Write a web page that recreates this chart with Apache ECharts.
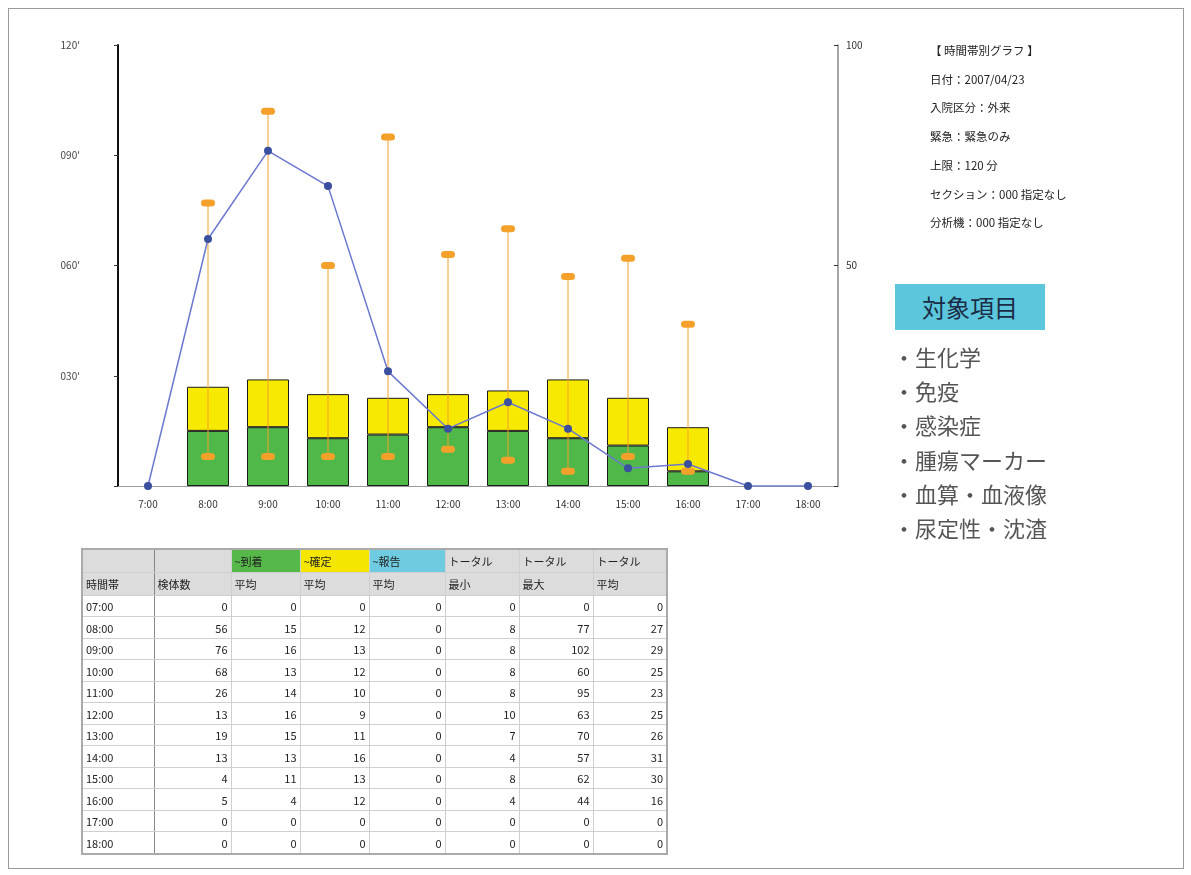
<!DOCTYPE html>
<html>
<head>
<meta charset="utf-8">
<script src="https://cdn.jsdelivr.net/npm/echarts@6/dist/echarts.min.js"></script>
<style>
  html, body { margin:0; padding:0; background:#fff; }
  body { width:1191px; height:875px; position:relative; overflow:hidden; font-family:"Noto Sans CJK JP","Noto Sans",sans-serif; }
  #frame { position:absolute; left:8px; top:8px; width:1174px; height:859px; border:1px solid #9a9a9a; }
  #chart { position:absolute; left:0; top:0; width:1191px; height:875px; }
  #info { position:absolute; left:930px; top:36px; font-size:11.5px; color:#222; line-height:28.7px; }
  #target { position:absolute; left:895px; top:284px; width:150px; height:46px; background:#5cc6dc; color:#1b2b45; font-size:24px; line-height:46px; text-align:center; }
  #items { position:absolute; left:893px; top:339px; font-size:22px; line-height:34.2px; color:#555; }
  table { position:absolute; left:81px; top:548px; width:585px; height:307px; border-collapse:collapse; border:2px solid #aaa; font-size:11px; color:#222; table-layout:fixed; }
  td { padding:0 3px; border:1px solid #cfcfcf; white-space:nowrap; overflow:hidden; }
  td.num { text-align:right; }
  tr.h td { background:#dcdcdc; text-align:left; height:22px; }
  td.first { border-right:1.5px solid #888; }
</style>
</head>
<body>
<div id="chart"></div>
<div id="frame"></div>
<div id="info"></div>
<div id="target">対象項目</div>
<div id="items"></div>
<table id="tbl"></table>
<script>
// ---- data ----
const categories   = ['7:00','8:00','9:00','10:00','11:00','12:00','13:00','14:00','15:00','16:00','17:00','18:00'];
const timeLabels   = ['07:00','08:00','09:00','10:00','11:00','12:00','13:00','14:00','15:00','16:00','17:00','18:00'];
const sampleCount  = [0, 56, 76, 68, 26, 13, 19, 13, 4, 5, 0, 0];
const arriveAvg    = [0, 15, 16, 13, 14, 16, 15, 13, 11, 4, 0, 0];
const confirmAvg   = [0, 12, 13, 12, 10, 9, 11, 16, 13, 12, 0, 0];
const reportAvg    = [0, 0, 0, 0, 0, 0, 0, 0, 0, 0, 0, 0];
const totalMin     = [0, 8, 8, 8, 8, 10, 7, 4, 8, 4, 0, 0];
const totalMax     = [0, 77, 102, 60, 95, 63, 70, 57, 62, 44, 0, 0];
const totalAvg     = [0, 27, 29, 25, 23, 25, 26, 31, 30, 16, 0, 0];
const infoLines    = ['【 時間帯別グラフ 】','日付：2007/04/23','入院区分：外来','緊急：緊急のみ','上限：120 分','セクション：000 指定なし','分析機：000 指定なし'];
const targetItems  = ['生化学','免疫','感染症','腫瘍マーカー','血算・血液像','尿定性・沈渣'];
const headerTop    = ['', '', '~到着', '~確定', '~報告', 'トータル', 'トータル', 'トータル'];
const headerSub    = ['時間帯', '検体数', '平均', '平均', '平均', '最小', '最大', '平均'];

// ---- side texts ----
document.getElementById('info').innerHTML = infoLines.map(s => '<div>' + s + '</div>').join('');
document.getElementById('items').innerHTML = targetItems.map(s => '<div>・' + s + '</div>').join('');

// ---- table ----
(function () {
  const colW = [72, 77, 69, 69, 76, 74, 74, 74];
  const topBg = ['#dcdcdc', '#dcdcdc', '#55b848', '#f4e600', '#6fcbe0', '#dcdcdc', '#dcdcdc', '#dcdcdc'];
  let html = '<colgroup>' + colW.map(w => '<col style="width:' + w + 'px">').join('') + '</colgroup>';
  html += '<tr class="h">' + headerTop.map((t, i) => '<td style="background:' + topBg[i] + '"' + (i === 0 ? ' class="first"' : '') + '>' + t + '</td>').join('') + '</tr>';
  html += '<tr class="h">' + headerSub.map((t, i) => '<td' + (i === 0 ? ' class="first"' : '') + '>' + t + '</td>').join('') + '</tr>';
  for (let i = 0; i < timeLabels.length; i++) {
    const row = [sampleCount[i], arriveAvg[i], confirmAvg[i], reportAvg[i], totalMin[i], totalMax[i], totalAvg[i]];
    html += '<tr><td class="first">' + timeLabels[i] + '</td>' + row.map(v => '<td class="num">' + v + '</td>').join('') + '</tr>';
  }
  document.getElementById('tbl').innerHTML = html;
})();

// ---- chart ----
const chart = echarts.init(document.getElementById('chart'), null, { renderer: 'canvas' });
const orange = '#f3a12a';
const nz = arr => arr.map(v => (v === 0 ? null : v));
chart.setOption({
  animation: false,
  textStyle: { fontFamily: 'Noto Sans CJK JP' },
  grid: { left: 118, right: 353, top: 45, bottom: 389, containLabel: false },
  xAxis: {
    type: 'category', data: categories, boundaryGap: true,
    axisLine: { lineStyle: { color: '#9a9a9a', width: 1 } },
    axisTick: { alignWithLabel: true, length: 4, lineStyle: { color: '#666' } },
    axisLabel: { color: '#333', fontSize: 10, margin: 13 }
  },
  yAxis: [
    {
      type: 'value', min: 0, max: 120, interval: 30, position: 'left',
      splitLine: { show: false },
      axisLine: { show: true, lineStyle: { color: '#111', width: 2 } },
      axisTick: { show: true, length: 4, lineStyle: { color: '#333' } },
      axisLabel: { color: '#444', fontSize: 10, margin: 38, align: 'right', formatter: v => v === 0 ? '' : String(v).padStart(3, '0') + "'" }
    },
    {
      type: 'value', min: 0, max: 100, interval: 50, position: 'right',
      splitLine: { show: false },
      axisLine: { show: true, lineStyle: { color: '#888', width: 1.5 } },
      axisTick: { show: true, length: 4, inside: true, lineStyle: { color: '#333' } },
      axisLabel: { color: '#333', fontSize: 10, margin: 8, formatter: v => v === 0 ? '' : String(v) }
    }
  ],
  series: [
    {
      name: '~到着', type: 'bar', stack: 'avg', data: nz(arriveAvg), barWidth: 42, yAxisIndex: 0,
      itemStyle: { color: '#50b848', borderColor: '#1a1a1a', borderWidth: 1 }, z: 2
    },
    {
      name: '~確定', type: 'bar', stack: 'avg', data: nz(confirmAvg), barWidth: 42, yAxisIndex: 0,
      itemStyle: { color: '#f7ea00', borderColor: '#1a1a1a', borderWidth: 1 }, z: 2
    },
    {
      name: 'range', type: 'custom', yAxisIndex: 0, z: 3,
      data: categories.map((c, i) => [i, totalMin[i], totalMax[i]]),
      encode: { x: 0, y: [1, 2] },
      renderItem: function (params, api) {
        const lo = api.value(1), hi = api.value(2);
        if (!hi) return null;
        const p1 = api.coord([api.value(0), lo]);
        const p2 = api.coord([api.value(0), hi]);
        const w = 14, h = 7;
        return {
          type: 'group',
          children: [
            { type: 'line', shape: { x1: p1[0], y1: p1[1], x2: p2[0], y2: p2[1] }, style: { stroke: orange, lineWidth: 1 } },
            { type: 'rect', shape: { x: p1[0] - w / 2, y: p1[1] - h / 2, width: w, height: h, r: 3.5 }, style: { fill: orange } },
            { type: 'rect', shape: { x: p2[0] - w / 2, y: p2[1] - h / 2, width: w, height: h, r: 3.5 }, style: { fill: orange } }
          ]
        };
      }
    },
    {
      name: '検体数', type: 'line', yAxisIndex: 1, data: sampleCount, z: 5,
      symbol: 'circle', symbolSize: 8,
      lineStyle: { color: '#6b78cf', width: 1.5 },
      itemStyle: { color: '#3a4f9e' }
    }
  ]
});
</script>
</body>
</html>
